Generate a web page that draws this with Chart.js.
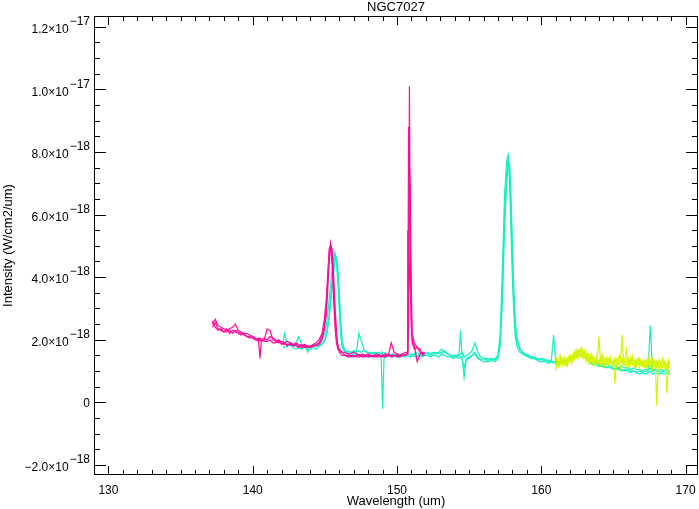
<!DOCTYPE html>
<html>
<head>
<meta charset="utf-8">
<script src="https://cdn.jsdelivr.net/npm/chart.js@4.4.1/dist/chart.umd.min.js"></script>
<style>
  body { margin: 0; background: #fff; }
  canvas { display: block; }
</style>
</head>
<body>
<canvas id="specChart" width="699" height="509"></canvas>
<script>
// --- data (intensity in units of 1e-18 W/cm2/um) ---
const magentaWl = [
  137.2,137.4,137.6,137.8,138.0,138.2,138.4,138.6,138.8,139.0,
  139.2,139.4,139.6,139.8,140.0,140.2,140.4,140.5,140.6,140.8,
  141.0,141.2,141.4,141.6,141.8,142.0,142.2,142.4,142.6,142.8,
  143.0,143.2,143.4,143.6,143.8,144.0,144.2,144.4,144.6,144.8,
  144.95,145.1,145.2,145.3,145.4,145.5,145.6,145.7,145.8,145.9,
  146.0,146.1,146.2,146.4,146.6,146.8,147.0,147.2,147.4,147.6,
  147.8,148.0,148.2,148.4,148.6,148.8,149.0,149.2,149.4,149.6,
  149.8,150.0,150.2,150.4,150.6,150.7,150.75,150.8,150.86,150.92,
  150.97,151.05,151.2,151.4,151.6,151.8,151.9
];
const magentaA = [
  2.5,2.65,2.45,2.4,2.35,2.3,2.35,2.4,2.5,2.3,
  2.25,2.2,2.2,2.15,2.1,2.05,2.0,1.4,2.0,2.05,
  2.0,2.1,2.05,2.0,1.95,1.95,1.9,1.95,1.9,1.85,
  1.9,1.85,1.8,1.85,1.8,1.8,1.85,1.9,2.0,2.2,
  2.6,3.3,4.1,4.8,5.1,4.7,3.8,2.8,2.1,1.8,
  1.7,1.65,1.6,1.6,1.55,1.55,1.6,1.55,1.5,1.55,
  1.5,1.55,1.5,1.5,1.55,1.5,1.5,1.55,1.5,1.9,
  1.6,1.55,1.5,1.55,1.6,1.6,1.7,2.5,10.1,5.0,
  2.6,1.9,1.7,1.75,1.6,1.55,1.5
];
const magentaB = [
  2.4,2.55,2.35,2.3,2.25,2.25,2.3,2.2,2.3,2.25,
  2.2,2.15,2.1,2.1,2.05,2.0,2.05,2.0,1.95,2.0,
  2.35,2.3,2.0,1.95,1.9,1.9,1.85,1.85,1.85,1.8,
  1.85,1.8,1.75,1.8,1.75,1.8,1.8,1.85,1.9,2.1,
  2.4,3.0,3.9,4.9,5.0,4.4,3.4,2.4,1.9,1.7,
  1.65,1.6,1.6,1.5,1.5,1.45,1.5,1.45,1.45,1.5,
  1.45,1.5,1.45,1.5,1.45,1.45,1.5,1.45,1.5,1.5,
  1.5,1.45,1.5,1.5,1.5,1.55,2.0,8.8,7.5,6.8,
  3.2,2.0,1.8,1.3,1.55,1.6,1.55
];
const magentaC = [
  2.6,2.4,2.3,2.35,2.25,2.35,2.2,2.3,2.25,2.2,
  2.15,2.2,2.1,2.05,2.1,2.0,1.95,2.05,2.0,1.95,
  1.95,2.0,1.9,1.9,2.0,1.85,1.9,1.8,1.9,1.85,
  1.8,1.75,1.85,1.75,1.8,1.75,1.8,1.8,1.85,2.0,
  2.3,2.8,3.6,4.5,5.0,4.9,4.1,3.1,2.3,1.8,
  1.6,1.55,1.5,1.5,1.45,1.5,1.45,1.5,1.5,1.45,
  1.5,1.45,1.5,1.45,1.5,1.5,1.45,1.5,1.5,1.45,
  1.5,1.5,1.45,1.5,1.5,1.6,5.5,3.5,4.0,5.0,
  4.2,2.2,1.9,1.75,1.7,1.5,1.6
];

const cyanWl = [
  142.1,142.2,142.4,142.6,142.8,143.0,143.2,143.4,143.6,143.8,
  144.0,144.2,144.4,144.6,144.8,145.0,145.15,145.3,145.45,145.6,
  145.7,145.8,145.9,146.0,146.1,146.2,146.4,146.6,146.8,147.0,
  147.2,147.35,147.5,147.7,147.9,148.1,148.3,148.5,148.7,148.9,
  148.95,149.0,149.1,149.3,149.5,149.7,149.9,150.1,150.3,150.5,
  150.7,150.9,151.1,151.3,151.5,151.7,151.9,152.1,152.3,152.5,
  152.7,152.9,153.1,153.3,153.5,153.7,153.9,154.1,154.3,154.4,
  154.5,154.65,154.8,155.0,155.2,155.4,155.6,155.8,156.0,156.2,
  156.4,156.6,156.8,157.0,157.15,157.3,157.45,157.6,157.7,157.8,
  157.9,158.0,158.1,158.2,158.3,158.5,158.7,158.9,159.1,159.3,
  159.5,159.7,159.9,160.1,160.3,160.5,160.7,160.85,161.0,161.2,
  161.4,161.6,161.8,162.0,162.2,162.4,162.6,162.8,163.0,163.2,
  163.4,163.6,163.8,164.0,164.2,164.4,164.6,164.8,165.0,165.2,
  165.4,165.6,165.8,166.0,166.2,166.4,166.6,166.8,167.0,167.2,
  167.4,167.55,167.7,167.9,168.1,168.3,168.5,168.7,168.9
];
const cyanA = [
  1.9,2.2,1.85,1.8,1.85,1.8,1.75,1.8,1.85,1.6,
  1.8,1.85,1.8,1.9,2.0,2.2,2.6,3.3,4.0,4.6,
  4.8,4.5,3.8,2.9,2.1,1.75,1.6,1.65,1.6,1.6,
  1.65,2.2,2.0,1.7,1.6,1.6,1.55,1.6,1.55,1.5,
  1.5,-0.2,1.4,1.55,1.5,1.55,1.5,1.55,1.5,1.55,
  1.5,1.55,1.5,1.6,1.55,1.5,1.6,1.55,1.5,1.55,
  1.6,1.55,1.6,1.65,1.55,1.5,1.45,1.5,1.55,2.3,
  1.5,0.8,1.4,1.45,1.5,1.6,1.45,1.35,1.4,1.35,
  1.35,1.4,1.35,1.45,2.2,4.2,6.6,7.7,7.9,7.0,
  5.4,3.9,2.8,2.1,1.8,1.6,1.55,1.5,1.45,1.45,
  1.4,1.35,1.4,1.35,1.35,1.3,1.35,2.15,1.3,1.25,
  1.25,1.3,1.3,1.35,1.4,1.5,1.6,1.65,1.55,1.45,
  1.35,1.3,1.25,1.2,1.2,1.15,1.1,1.15,1.1,1.05,
  1.1,1.05,1.0,1.05,1.0,1.0,0.95,1.0,0.95,1.0,
  1.0,2.45,1.1,1.0,1.0,0.95,1.0,0.95,1.0
];
const cyanB = [
  1.85,1.9,1.95,1.9,1.8,1.9,2.1,1.85,1.75,1.8,
  1.75,1.8,1.85,1.8,1.9,2.0,2.3,2.8,3.6,4.3,
  4.7,4.6,4.1,3.3,2.4,1.85,1.65,1.6,1.6,1.65,
  1.6,1.65,1.6,1.65,1.6,1.55,1.6,1.55,1.6,1.55,
  1.6,1.55,1.6,1.5,1.55,1.5,1.55,1.5,1.55,1.5,
  1.55,1.5,1.55,1.5,1.5,1.55,1.5,1.6,1.55,1.6,
  1.55,1.6,1.7,1.6,1.55,1.5,1.5,1.45,1.5,1.55,
  1.6,1.45,1.5,1.55,1.65,1.9,1.6,1.45,1.4,1.4,
  1.4,1.35,1.4,1.5,2.0,3.6,6.0,7.4,7.8,7.4,
  6.2,4.5,3.2,2.3,1.95,1.7,1.6,1.55,1.5,1.45,
  1.45,1.4,1.35,1.4,1.35,1.35,1.3,1.3,1.3,1.3,
  1.35,1.3,1.4,1.45,1.5,1.6,1.65,1.6,1.5,1.4,
  1.3,1.25,1.3,1.25,1.2,1.25,1.2,1.15,1.2,1.15,
  1.1,1.15,1.1,1.1,1.05,1.1,1.05,1.05,1.0,1.05,
  1.05,1.1,1.0,1.05,1.0,1.05,1.0,1.05,0.95
];
const cyanC = [
  1.8,1.75,1.8,1.85,1.75,1.7,1.75,1.7,1.8,1.7,
  1.7,1.75,1.7,1.8,1.85,1.95,2.2,2.7,3.4,4.1,
  4.5,4.6,4.3,3.5,2.6,1.95,1.6,1.55,1.5,1.55,
  1.5,1.55,1.5,1.5,1.5,1.45,1.5,1.45,1.5,1.45,
  1.45,1.5,1.45,1.45,1.5,1.45,1.5,1.45,1.5,1.45,
  1.5,1.45,1.5,1.45,1.5,1.45,1.5,1.5,1.45,1.5,
  1.5,1.45,1.55,1.5,1.45,1.45,1.4,1.45,1.4,1.45,
  1.4,1.1,1.4,1.4,1.5,1.55,1.4,1.35,1.3,1.3,
  1.3,1.35,1.3,1.4,1.8,3.2,5.5,7.0,7.6,7.6,
  6.6,5.0,3.6,2.6,2.1,1.75,1.55,1.5,1.45,1.4,
  1.4,1.35,1.3,1.3,1.3,1.25,1.3,1.25,1.25,1.2,
  1.25,1.3,1.35,1.4,1.45,1.5,1.55,1.5,1.45,1.35,
  1.25,1.2,1.2,1.15,1.15,1.1,1.15,1.1,1.05,1.1,
  1.05,1.0,1.05,1.0,0.95,1.0,0.95,0.9,0.95,0.9,
  0.95,1.0,0.9,0.95,0.9,0.95,0.9,0.95,0.9
];

const yellowWl = [
  161.0,161.1,161.2,161.3,161.4,161.5,161.6,161.7,161.8,161.9,
  162.0,162.1,162.2,162.3,162.4,162.5,162.6,162.7,162.8,162.9,
  163.0,163.1,163.2,163.3,163.4,163.5,163.6,163.7,163.8,163.9,
  164.0,164.1,164.2,164.3,164.4,164.5,164.6,164.7,164.8,164.9,
  165.0,165.1,165.2,165.3,165.4,165.5,165.6,165.7,165.8,165.9,
  166.0,166.1,166.2,166.3,166.4,166.5,166.6,166.7,166.8,166.9,
  167.0,167.1,167.2,167.3,167.4,167.5,167.6,167.7,167.8,167.9,
  168.0,168.1,168.2,168.3,168.4,168.5,168.6,168.7,168.8,168.9
];
const yellowA = [
  1.0,1.4,1.3,1.5,1.25,1.35,1.45,1.2,1.4,1.3,
  1.5,1.35,1.45,1.6,1.4,1.7,1.55,1.6,1.75,1.5,
  1.65,1.45,1.55,1.4,1.5,1.3,1.45,1.35,1.25,1.5,
  2.1,1.3,1.4,1.2,1.35,1.45,1.25,1.4,1.3,1.2,
  1.35,1.25,1.4,1.3,1.5,1.35,2.15,1.3,1.4,1.7,
  1.25,1.35,1.2,1.4,1.3,1.15,1.35,1.25,1.4,1.2,
  1.3,1.15,1.35,1.25,1.45,1.2,1.3,1.4,1.15,1.3,
  -0.1,1.25,1.35,1.15,1.4,1.2,1.3,1.1,1.35,1.2
];
const yellowB = [
  1.5,1.2,1.35,1.2,1.45,1.3,1.2,1.4,1.25,1.45,
  1.3,1.45,1.3,1.5,1.55,1.45,1.65,1.5,1.45,1.65,
  1.45,1.6,1.35,1.55,1.3,1.45,1.2,1.4,1.3,1.35,
  1.25,1.4,1.2,1.45,1.25,1.3,1.4,1.15,1.35,1.25,
  1.3,0.6,1.25,1.35,1.2,1.4,1.25,1.45,1.2,1.35,
  1.45,1.2,1.3,1.5,1.2,1.35,1.15,1.3,1.2,1.35,
  1.2,1.35,1.1,1.3,1.2,1.4,1.15,1.25,1.35,1.1,
  1.3,1.15,1.3,1.2,1.1,1.3,1.2,0.3,1.25,1.1
];
const yellowC = [
  1.2,1.3,1.15,1.3,1.4,1.15,1.3,1.25,1.15,1.35,
  1.4,1.25,1.55,1.4,1.65,1.5,1.4,1.7,1.55,1.4,
  1.55,1.3,1.5,1.25,1.4,1.55,1.3,1.2,1.45,1.25,
  1.35,1.2,1.55,1.3,1.15,1.35,1.2,1.3,1.45,1.15,
  1.2,1.4,1.15,1.3,1.25,1.1,1.35,1.2,1.3,1.15,
  1.3,1.1,1.4,1.2,1.3,1.1,1.25,1.4,1.1,1.3,
  1.15,1.3,1.2,1.1,1.3,1.15,1.2,1.05,1.3,1.2,
  1.1,1.3,1.05,1.25,1.15,1.3,1.05,1.2,1.1,1.3
];

// tick labels
const xTickValues = [130, 140, 150, 160, 170];
const yTickValues = [-2, 0, 2, 4, 6, 8, 10, 12];
const yTickMantissa = ['\u22122.0', '0', '2.0', '4.0', '6.0', '8.0', '1.0', '1.2'];
const yTickExponent = ['\u221218', '', '\u221218', '\u221218', '\u221218', '\u221218', '\u221217', '\u221217'];

const MAGENTA = '#ff0a9a';
const CYAN = '#14f0c0';
const YELLOW = '#d6f500';

function toPoints(wl, vals) {
    return wl.map((w, i) => ({ x: w, y: vals[i] }));
}

function series(wl, vals, color) {
    return {
        data: toPoints(wl, vals),
        borderColor: color,
        borderWidth: 1.2,
        pointRadius: 0,
        tension: 0,
        fill: false
    };
}

// --- frame, ticks and labels drawn IDL-style ---
const idlFrame = {
    id: 'idlFrame',
    afterDraw(chart) {
        const ctx = chart.ctx;
        const a = chart.chartArea;
        const xs = chart.scales.x;
        const ys = chart.scales.y;
        const font = '12px "Liberation Sans", Arial, sans-serif';
        const titleFont = '13px "Liberation Sans", Arial, sans-serif';
        ctx.save();
        ctx.strokeStyle = '#000';
        ctx.fillStyle = '#000';
        ctx.lineWidth = 1;
        ctx.strokeRect(a.left + 0.5, a.top + 0.5, a.right - a.left - 1, a.bottom - a.top - 1);

        ctx.beginPath();
        // x ticks, bottom and top
        for (let v = 130; v <= 170; v++) {
            const px = Math.round(xs.getPixelForValue(v)) + 0.5;
            const len = (v % 10 === 0) ? 9 : 5;
            ctx.moveTo(px, a.bottom); ctx.lineTo(px, a.bottom - len);
            ctx.moveTo(px, a.top); ctx.lineTo(px, a.top + len);
        }
        // y ticks, left and right
        for (let k = -4; k <= 24; k++) {
            const v = k / 2;
            const py = Math.round(ys.getPixelForValue(v)) + 0.5;
            const len = (k % 4 === 0) ? 12 : 6;
            ctx.moveTo(a.left, py); ctx.lineTo(a.left + len, py);
            ctx.moveTo(a.right, py); ctx.lineTo(a.right - len, py);
        }
        ctx.stroke();

        ctx.font = font;
        ctx.textBaseline = 'middle';
        // x tick labels
        ctx.textAlign = 'center';
        xTickValues.forEach(v => {
            ctx.fillText(String(v), xs.getPixelForValue(v), 491);
        });
        // y tick labels with superscript exponent
        ctx.textAlign = 'left';
        yTickValues.forEach((v, i) => {
            const py = ys.getPixelForValue(v);
            const mant = yTickMantissa[i];
            const exp = yTickExponent[i];
            ctx.font = font;
            if (!exp) {
                ctx.textAlign = 'right';
                ctx.fillText(mant, 90, py + 1);
                ctx.textAlign = 'left';
                return;
            }
            const base = mant + '\u00d710';
            const wBase = ctx.measureText(base).width;
            const wExp = ctx.measureText(exp).width;
            const x0 = 90 - wExp - wBase - 1;
            ctx.fillText(base, x0, py + 3);
            ctx.fillText(exp, x0 + wBase + 1, py - 5);
        });

        // titles
        ctx.font = titleFont;
        ctx.textAlign = 'center';
        ctx.fillText('NGC7027', (a.left + a.right) / 2, 7);
        ctx.fillText('Wavelength (um)', (a.left + a.right) / 2, 501);
        ctx.translate(8, (a.top + a.bottom) / 2);
        ctx.rotate(-Math.PI / 2);
        ctx.fillText('Intensity (W/cm2/um)', 0, 0);
        ctx.restore();
    }
};

new Chart(document.getElementById('specChart'), {
    type: 'line',
    data: {
        datasets: [
            series(magentaWl, magentaA, MAGENTA),
            series(magentaWl, magentaB, MAGENTA),
            series(magentaWl, magentaC, MAGENTA),
            series(yellowWl, yellowA, YELLOW),
            series(yellowWl, yellowB, YELLOW),
            series(yellowWl, yellowC, YELLOW),
            series(cyanWl, cyanA, CYAN),
            series(cyanWl, cyanB, CYAN),
            series(cyanWl, cyanC, CYAN)
        ]
    },
    options: {
        responsive: false,
        animation: false,
        events: [],
        layout: { padding: { left: 94, right: 1, top: 16, bottom: 34 } },
        plugins: {
            legend: { display: false },
            tooltip: { enabled: false }
        },
        scales: {
            x: { type: 'linear', min: 129.0, max: 170.86, display: false },
            y: { type: 'linear', min: -2.32, max: 12.34, display: false }
        }
    },
    plugins: [idlFrame]
});
</script>
</body>
</html>
